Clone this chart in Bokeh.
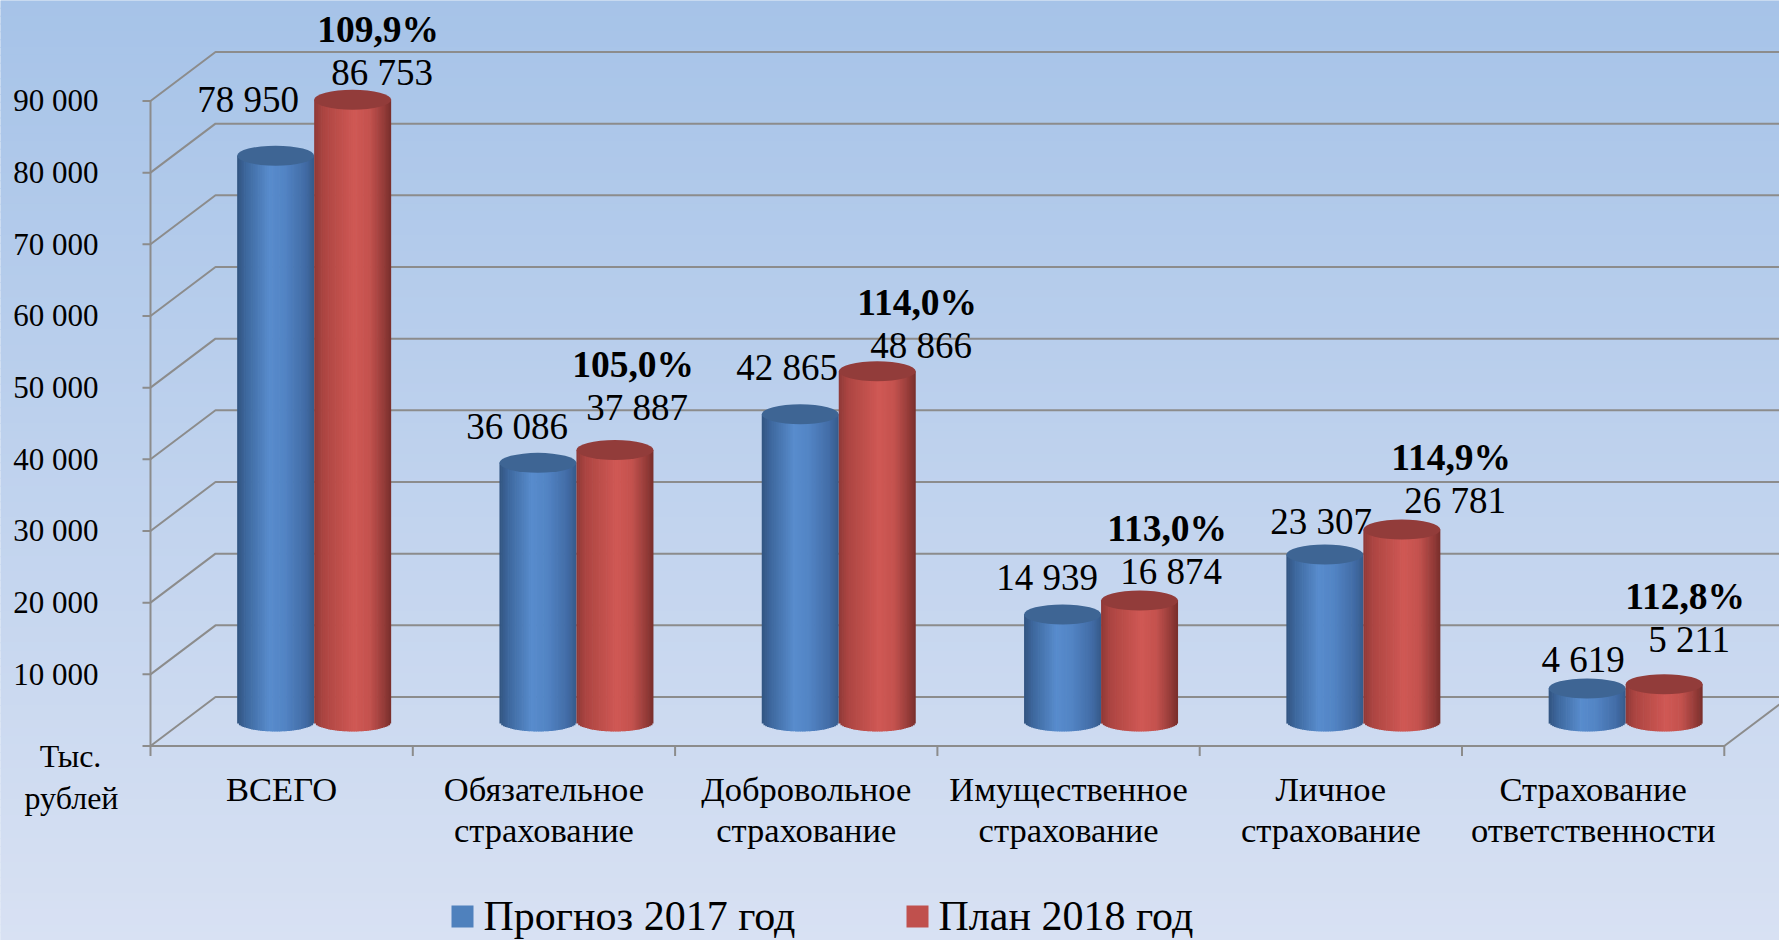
import math
from bokeh.plotting import figure
from bokeh.models import ColumnDataSource, Range1d
from bokeh.core.properties import value
from bokeh.embed import file_html
from bokeh.resources import INLINE

# ---------------- data ----------------
categories = ["ВСЕГО", "Обязательное\nстрахование", "Добровольное\nстрахование",
              "Имущественное\nстрахование", "Личное\nстрахование",
              "Страхование\nответственности"]
forecast_2017 = [78950, 36086, 42865, 14939, 23307, 4619]
plan_2018 = [86753, 37887, 48866, 16874, 26781, 5211]
growth_pct = ["109,9%", "105,0%", "114,0%", "113,0%", "114,9%", "112,8%"]
y_ticks = [0, 10000, 20000, 30000, 40000, 50000, 60000, 70000, 80000, 90000]
y_tick_labels = ["", "10 000", "20 000", "30 000", "40 000", "50 000",
                 "60 000", "70 000", "80 000", "90 000"]
unit_label = ["Тыс.", "рублей"]
series_names = ["Прогноз 2017 год", "План 2018 год"]

# ---------------- layout (pixels of the 1779x940 picture) ----------------
W, H = 1779, 940
PAGE = 0
XPX = 262.3                 # px per category
YPX = 71.67 / 10000.0       # px per value unit
OX, OY = 150.0, 745.5       # front-left-bottom corner
TS = 10.5                   # text baseline correction (px, upwards)


def xd(px):
    return (px - OX) / XPX


def yd(py):
    return (OY - py) / YPX


def ty(py):
    return yd(py - TS)


def dxu(px):
    return px / XPX


def dyu(px):
    return px / YPX


DX, DY = dxu(65), dyu(49)   # depth of the 3-D box
HW = dxu(38.5)              # cylinder half width
RY = 10.0                   # ellipse half height, px
NS = 44                     # shading strips per cylinder
FONT = value("Liberation Serif")

# label offsets (px) relative to cylinder top centre
blue_lbl_dx = [-27.5, -20.8, -13.1, -15.4, -3.7, -4.0]
blue_lbl_up = [57.7, 38.4, 48.8, 39.4, 35.0, 30.4]
red_lbl_dx = [29.5, 22.2, 43.9, 31.6, 53.3, 25.0]
red_lbl_up = [29.2, 44.5, 27.8, 30.6, 31.1, 46.2]
pct_dx, pct_up = -4.0, 43.0

blue_stops = [(0.0, (50, 84, 128)), (0.12, (62, 104, 158)), (0.42, (88, 140, 205)),
              (0.62, (82, 132, 196)), (0.88, (66, 108, 166)), (1.0, (54, 90, 138))]
red_stops = [(0.0, (142, 57, 55)), (0.12, (172, 69, 66)), (0.52, (208, 88, 84)),
             (0.72, (196, 82, 78)), (0.9, (150, 60, 57)), (1.0, (120, 46, 44))]
blue_top = "#3e6594"
red_top = "#923c3a"
BG_TOP, BG_BOT = (166, 195, 232), (216, 225, 243)
GRID = "#8c8c8c"


def hexc(c):
    return "#%02x%02x%02x" % tuple(int(round(v)) for v in c)


def lerp(a, b, t):
    return tuple(x + (y - x) * t for x, y in zip(a, b))


def shade(stops, u):
    for (u0, c0), (u1, c1) in zip(stops[:-1], stops[1:]):
        if u0 <= u <= u1:
            return hexc(lerp(c0, c1, (u - u0) / (u1 - u0)))
    return hexc(stops[-1][1])


p = figure(width=W, height=H, output_backend="svg", toolbar_location=None,
           x_range=Range1d(xd(PAGE), xd(PAGE + W)),
           y_range=Range1d(yd(PAGE + H), yd(PAGE)),
           min_border=0, min_border_left=0, min_border_right=0,
           min_border_top=0, min_border_bottom=0)
p.axis.visible = False
p.grid.visible = False
p.outline_line_color = None
p.background_fill_color = hexc(BG_BOT)
p.border_fill_color = hexc(BG_BOT)

# ---------------- background gradient ----------------
NB = 120
bg = dict(left=[], right=[], top=[], bottom=[], color=[])
for k in range(NB):
    py0 = PAGE + H * k / NB
    py1 = PAGE + H * (k + 1) / NB
    bg["left"].append(xd(-2))
    bg["right"].append(xd(1782))
    bg["top"].append(yd(py0 - 0.5))
    bg["bottom"].append(yd(py1 + 0.5))
    bg["color"].append(hexc(lerp(BG_TOP, BG_BOT, ((py0 + py1) / 2) / 940.0)))
p.quad(left="left", right="right", top="top", bottom="bottom", color="color",
       source=ColumnDataSource(bg), line_color=None)

# ---------------- 3-D box: walls, grid, axes ----------------
n = len(categories)
gx, gy = [], []
for v in y_ticks:
    gx.append([xd(OX - 8), 0, DX, n + DX + 1])
    gy.append([v, v, v + DY, v + DY])
gx.append([0, n, n + DX])
gy.append([0, 0, DY])
gx.append([0, 0])
gy.append([-dyu(10), y_ticks[-1]])
for i in range(1, n + 1):
    gx.append([i, i])
    gy.append([0, -dyu(10)])
p.multi_line(xs=gx, ys=gy, line_color=GRID, line_width=2)

# y tick labels
p.text(x=[xd(98)] * (len(y_ticks) - 1), y=[v - dyu(10.5) + dyu(TS) for v in y_ticks[1:]],
       text=y_tick_labels[1:], text_font=FONT, text_font_size="31px",
       text_align="right", text_baseline="alphabetic", text_color="black")
# unit label
p.text(x=[xd(70), xd(71)], y=[ty(766), ty(808)], text=unit_label, text_font=FONT,
       text_font_size="32px", text_align="center", text_baseline="alphabetic",
       text_color="black")

# category labels
line1 = [c.split("\n")[0] for c in categories]
line2 = [c.split("\n")[1] if "\n" in c else "" for c in categories]
cx_front = [i + 0.5 for i in range(n)]
p.text(x=cx_front, y=[ty(799)] * n, text=line1, text_font=FONT, text_font_size="34.5px",
       text_align="center", text_baseline="alphabetic", text_color="black")
p.text(x=cx_front, y=[ty(840)] * n, text=line2, text_font=FONT, text_font_size="34.5px",
       text_align="center", text_baseline="alphabetic", text_color="black")

# ---------------- cylinders ----------------
base_y = DY / 2


def cyl_one(i, v, side, stops, top_col):
    strips = dict(left=[], right=[], top=[], bottom=[], color=[])
    cx = i + 0.5 + DX / 2 + side * HW
    top = v + DY / 2
    for k in range(NS):
        u0, u1 = k / NS, (k + 1) / NS
        um = (u0 + u1) / 2
        s = 2 * um - 1
        strips["left"].append(cx - HW + 2 * HW * u0)
        strips["right"].append(cx - HW + 2 * HW * u1 + (dxu(0.7) if k < NS - 1 else 0))
        strips["top"].append(top)
        strips["bottom"].append(base_y - dyu(RY) * math.sqrt(max(0.0, 1 - s * s)))
        strips["color"].append(shade(stops, um))
    p.quad(left="left", right="right", top="top", bottom="bottom",
           fill_color="color", line_color=None, source=ColumnDataSource(strips))
    p.ellipse(x=[cx], y=[top], width=2 * HW, height=dyu(2 * RY), fill_color=top_col,
              line_color=None)


for i in range(n):
    cyl_one(i, forecast_2017[i], -1, blue_stops, blue_top)
    cyl_one(i, plan_2018[i], +1, red_stops, red_top)


def fmt(v):
    return f"{v:,}".replace(",", " ")


# value labels
bx = [i + 0.5 + DX / 2 - HW + dxu(blue_lbl_dx[i]) for i in range(n)]
by = [forecast_2017[i] + DY / 2 + dyu(blue_lbl_up[i]) - dyu(12.5) + dyu(TS) for i in range(n)]
rx = [i + 0.5 + DX / 2 + HW + dxu(red_lbl_dx[i]) for i in range(n)]
ry = [plan_2018[i] + DY / 2 + dyu(red_lbl_up[i]) - dyu(12.5) + dyu(TS) for i in range(n)]
p.text(x=bx, y=by, text=[fmt(v) for v in forecast_2017], text_font=FONT,
       text_font_size="37px", text_align="center", text_baseline="alphabetic",
       text_color="black")
p.text(x=rx, y=ry, text=[fmt(v) for v in plan_2018], text_font=FONT,
       text_font_size="37px", text_align="center", text_baseline="alphabetic",
       text_color="black")
p.text(x=[x + dxu(pct_dx) for x in rx], y=[y + dyu(pct_up) for y in ry], text=growth_pct,
       text_font=FONT, text_font_size="37.5px", text_font_style="bold",
       text_align="center", text_baseline="alphabetic", text_color="black")

# ---------------- legend ----------------
leg_sq_x = [xd(462), xd(917)]
leg_y = yd(916)
p.scatter(x=leg_sq_x, y=[leg_y, leg_y], marker="square", size=22,
          fill_color=["#4f81bd", "#c0504d"], line_color=None)
p.text(x=[xd(483), xd(938)], y=[ty(926), ty(926)], text=series_names, text_font=FONT,
       text_font_size="42px", text_align="left", text_baseline="alphabetic",
       text_color="black")

open("out.html", "w").write(file_html(p, INLINE))
